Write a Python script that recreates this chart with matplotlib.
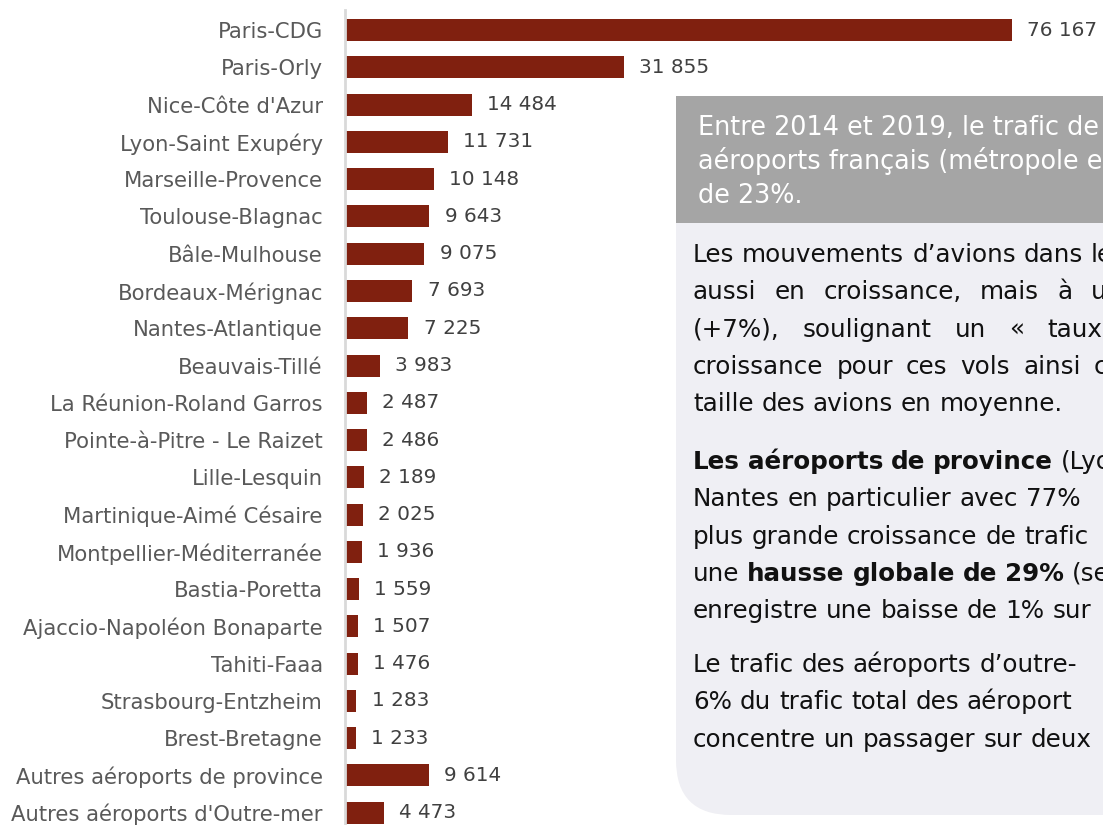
import matplotlib
matplotlib.use("Agg")
import matplotlib.pyplot as plt
from matplotlib.patches import FancyBboxPatch, Rectangle

airports = ["Paris-CDG", "Paris-Orly", "Nice-Côte d'Azur", "Lyon-Saint Exupéry",
            "Marseille-Provence", "Toulouse-Blagnac", "Bâle-Mulhouse", "Bordeaux-Mérignac",
            "Nantes-Atlantique", "Beauvais-Tillé", "La Réunion-Roland Garros",
            "Pointe-à-Pitre - Le Raizet", "Lille-Lesquin", "Martinique-Aimé Césaire",
            "Montpellier-Méditerranée", "Bastia-Poretta", "Ajaccio-Napoléon Bonaparte",
            "Tahiti-Faaa", "Strasbourg-Entzheim", "Brest-Bretagne",
            "Autres aéroports de province", "Autres aéroports d'Outre-mer"]
passengers = [76167, 31855, 14484, 11731, 10148, 9643, 9075, 7693, 7225, 3983, 2487,
              2486, 2189, 2025, 1936, 1559, 1507, 1476, 1283, 1233, 9614, 4473]

header_lines = ["Entre 2014 et 2019, le trafic de",
                "aéroports français (métropole et",
                "de 23%."]
# each line: list of (text, bold) segments, and justified right edge (px) or None
para1 = [([("Les mouvements d’avions dans le", False)], None),
         ([("aussi en croissance, mais à u", False)], 1106),
         ([("(+7%), soulignant un « taux", False)], 1102),
         ([("croissance pour ces vols ainsi c", False)], 1107),
         ([("taille des avions en moyenne.", False)], None)]
para2 = [([("Les aéroports de province", True), ("(Lyo", False)], 1106),
         ([("Nantes en particulier avec 77%", False)], None),
         ([("plus grande croissance de trafic", False)], None),
         ([("une", False), ("hausse globale de 29%", True), ("(se", False)], None),
         ([("enregistre une baisse de 1% sur", False)], None)]
para3 = [([("Le trafic des aéroports d’outre-", False)], None),
         ([("6% du trafic total des aéroport", False)], None),
         ([("concentre un passager sur deux", False)], None)]

FONT = "DejaVu Sans"
W, H = 1103, 825
fig = plt.figure(figsize=(W / 100, H / 100), dpi=100)
fig.patch.set_facecolor("white")
renderer = fig.canvas.get_renderer()


def fit_size(text, target_px, weight="normal"):
    t = fig.text(0, 0, text, fontfamily=FONT, fontsize=10, fontweight=weight)
    w = t.get_window_extent(renderer=renderer).width
    t.remove()
    return 10 * target_px / w


label_fs = fit_size("Autres aéroports d'Outre-mer", 312)
value_fs = fit_size("76 167", 70)
header_fs = fit_size("Entre 2014 et 2019, le trafic de", 401)
body_fs = fit_size("taille des avions en moyenne.", 368)

ax = fig.add_axes([345 / W, 0, 1 - 345 / W, 1 - 10 / H])
y = list(range(len(airports)))
ax.barh(y, passengers, height=0.59, color="#80200F", zorder=2)
ax.set_xlim(0, 86560)
ax.set_ylim(21.33, -0.54)
ax.set_yticks(y)
ax.set_yticklabels(airports, fontfamily=FONT, fontsize=label_fs, color="#595959")
ax.tick_params(axis="y", length=0, pad=16)
ax.set_xticks([])
for s in ["top", "right", "bottom"]:
    ax.spines[s].set_visible(False)
ax.spines["left"].set_color("#D9D9D9")
ax.spines["left"].set_linewidth(2)
ax.set_facecolor("none")
for yi, v in zip(y, passengers):
    ax.annotate(f"{v:,}".replace(",", " "), (v, yi), xytext=(11, 0),
                textcoords="offset points", va="center", ha="left",
                fontfamily=FONT, fontsize=value_fs, color="#404040")


def fx(px):
    return px / W


def fy(py):
    return 1 - py / H


light = FancyBboxPatch((fx(676), fy(815)), fx(1200 - 676), (815 - 110) / H,
                       boxstyle="round,pad=0,rounding_size=0.05",
                       transform=fig.transFigure, facecolor="#EFEFF4",
                       edgecolor="none", zorder=5, mutation_aspect=W / H)
fig.add_artist(light)
header = Rectangle((fx(676), fy(223)), fx(1200 - 676), (223 - 96) / H,
                   transform=fig.transFigure, facecolor="#A5A5A5",
                   edgecolor="none", zorder=6)
fig.add_artist(header)

for i, line in enumerate(header_lines):
    fig.text(fx(698), fy(135 + 34 * i), line, fontfamily=FONT, fontsize=header_fs,
             color="white", va="baseline", ha="left", zorder=7)


def draw_line(segments, x0, base, right):
    words = []
    for txt, bold in segments:
        for w in txt.split(" "):
            if w:
                words.append((w, bold))
    arts = []
    for w, bold in words:
        t = fig.text(0, fy(base), w, fontfamily=FONT, fontsize=body_fs,
                     fontweight="bold" if bold else "normal", color="#111111",
                     va="baseline", ha="left", zorder=7)
        arts.append((t, t.get_window_extent(renderer=renderer).width))
    sp = fig.text(0, 0, "a a", fontfamily=FONT, fontsize=body_fs)
    a1 = fig.text(0, 0, "aa", fontfamily=FONT, fontsize=body_fs)
    space = sp.get_window_extent(renderer=renderer).width - a1.get_window_extent(renderer=renderer).width
    sp.remove()
    a1.remove()
    total = sum(w for _, w in arts)
    if right is not None and len(arts) > 1:
        gap = max(space, (right - x0 - total) / (len(arts) - 1))
    else:
        gap = space
    x = x0
    for t, w in arts:
        t.set_x(fx(x))
        x += w + gap


for i, (segs, right) in enumerate(para1):
    draw_line(segs, 693, 262 + 37.3 * i, right)
for i, (segs, right) in enumerate(para2):
    draw_line(segs, 693, 469 + 37.3 * i, right)
for i, (segs, right) in enumerate(para3):
    draw_line(segs, 693, 672 + 37.3 * i, right)

fig.savefig("out.png", dpi=100, facecolor="white")
